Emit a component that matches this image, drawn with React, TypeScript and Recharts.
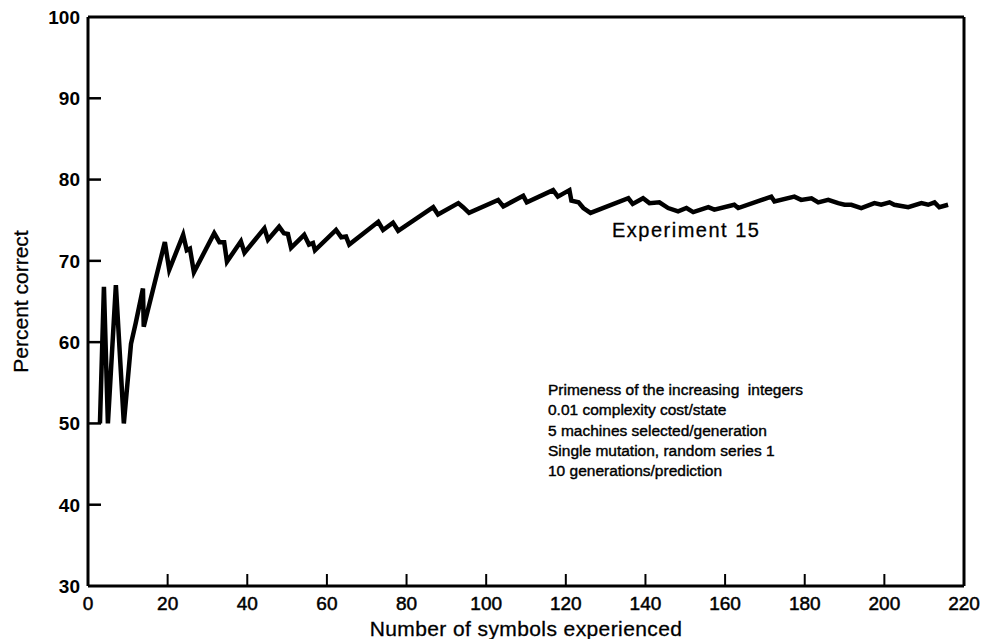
import { LineChart, Line, XAxis, YAxis, ReferenceLine, Label } from 'recharts';

// symbols experienced vs. percent correct
const symbols = [
  3, 4, 5, 7, 9, 10.8, 12, 13.8, 14, 19.3, 20.4, 23.9, 24.8, 25.6, 26.6,
  31.7, 33, 34.2, 34.9, 38.4, 39.3, 44.3, 45.2, 48, 49.2, 50.2, 51, 54.3,
  55.5, 56.5, 57, 62.3, 63.6, 64.8, 65.6, 72.9, 74.1, 76.6, 77.9, 86.7,
  87.9, 93, 94.2, 95.7, 103, 104.3, 109.3, 110.2, 116.8, 118, 120.9, 121.4,
  123.2, 124.4, 126.2, 135.7, 136.8, 139.4, 141, 143.5, 145.7, 148.2, 150.3,
  152, 155.8, 157.3, 162.3, 163.3, 171.6, 172.4, 177.4, 179.1, 181.7, 183.4,
  185.9, 188.4, 190, 191.7, 194.2, 197.5, 199.2, 201.3, 202.5, 206, 209.3,
  211, 212.6, 213.8, 216,
];
const percent = [
  50, 66.8, 50, 67, 50, 59.8, 62.4, 66.6, 61.9, 72.3, 68.9, 73.2, 71.3, 71.5, 68.6,
  73.4, 72.3, 72.3, 69.9, 72.4, 71, 74, 72.6, 74.2, 73.4, 73.3, 71.6, 73.2,
  72, 72.2, 71.3, 73.8, 72.9, 73, 72, 74.8, 73.8, 74.7, 73.7, 76.6,
  75.7, 77.1, 76.6, 75.9, 77.5, 76.7, 78, 77.2, 78.7, 77.9, 78.7, 77.4,
  77.2, 76.5, 75.9, 77.7, 77, 77.7, 77.1, 77.2, 76.5, 76.1, 76.5,
  76, 76.6, 76.3, 76.9, 76.5, 77.9, 77.3, 77.9, 77.5, 77.7, 77.2,
  77.5, 77.1, 76.9, 76.9, 76.5, 77.1, 76.9, 77.2, 76.9, 76.6, 77.1,
  76.9, 77.2, 76.6, 76.9,
];
const xTicks = [0, 20, 40, 60, 80, 100, 120, 140, 160, 180, 200, 220];
const yTicks = [30, 40, 50, 60, 70, 80, 90, 100];
const notes = [
  'Primeness of the increasing  integers',
  '0.01 complexity cost/state',
  '5 machines selected/generation',
  'Single mutation, random series 1',
  '10 generations/prediction',
];

const data = symbols.map((x, i) => ({ x, pct: percent[i] }));

const FONT = '"Liberation Sans", Arial, sans-serif';
const INK = '#000';

function LeftTick({ x, y, payload }: any) {
  const inner = payload.value > 30 && payload.value < 100;
  return (
    <g>
      {inner && <line x1={x + 8} x2={x + 21} y1={y} y2={y} stroke={INK} strokeWidth={2.5} />}
      <text x={x} y={y} dy="0.36em" textAnchor="end" fontSize={19} fontWeight="bold" fontFamily={FONT} fill={INK}>
        {payload.value}
      </text>
    </g>
  );
}

function RightTick({ x, y, payload }: any) {
  const inner = payload.value > 30 && payload.value < 100;
  if (!inner) return <g />;
  return <line x1={x - 8} x2={x - 21} y1={y} y2={y} stroke={INK} strokeWidth={2.5} />;
}

function BottomTick({ x, y, payload }: any) {
  const inner = payload.value > 0 && payload.value < 220;
  return (
    <g>
      {inner && <line x1={x} x2={x} y1={y - 10} y2={y - 22} stroke={INK} strokeWidth={2} />}
      <text x={x} y={y} dy="0.75em" textAnchor="middle" fontSize={19} fontFamily={FONT} fill={INK}
        stroke={INK} strokeWidth={0.5}>
        {payload.value}
      </text>
    </g>
  );
}

export default function App() {
  return (
    <div style={{ position: 'absolute', left: 0, top: 0, width: 994, height: 639, background: '#fff' }}>
      <LineChart width={994} height={639} data={data} margin={{ top: 17, right: 10, left: 28, bottom: 3 }}>
        <XAxis
          dataKey="x"
          type="number"
          domain={[0, 220]}
          ticks={xTicks}
          height={50}
          tickSize={0}
          tickMargin={10}
          tick={<BottomTick />}
          axisLine={{ stroke: INK, strokeWidth: 3 }}
          tickLine={false}
          interval={0}
        >
          <Label
            value="Number of symbols experienced"
            position="insideBottom"
            offset={0}
            style={{ fontSize: 21, fontFamily: FONT, fill: INK, letterSpacing: 0.4, stroke: INK, strokeWidth: 0.3 }}
          />
        </XAxis>
        <YAxis
          yAxisId="l"
          domain={[30, 100]}
          ticks={yTicks}
          width={60}
          tickSize={0}
          tickMargin={8}
          tick={<LeftTick />}
          axisLine={{ stroke: INK, strokeWidth: 3 }}
          tickLine={false}
          interval={0}
        >
          <Label
            content={(p: any) => {
              const vb = p.viewBox || { x: 28, y: 17, height: 569 };
              const cx = vb.x - 8;
              const cy = vb.y + vb.height / 2;
              return (
                <text
                  x={cx}
                  y={cy}
                  transform={`rotate(-90, ${cx}, ${cy})`}
                  textAnchor="middle"
                  dominantBaseline="central"
                  fontSize={21}
                  fontFamily={FONT}
                  fill={INK}
                  stroke={INK}
                  strokeWidth={0.3}
                >
                  Percent correct
                </text>
              );
            }}
          />
        </YAxis>
        <YAxis
          yAxisId="r"
          orientation="right"
          domain={[30, 100]}
          ticks={yTicks}
          width={20}
          tickSize={0}
          tickMargin={8}
          tick={<RightTick />}
          axisLine={{ stroke: INK, strokeWidth: 3 }}
          tickLine={false}
          interval={0}
        />
        <ReferenceLine yAxisId="l" y={100} stroke={INK} strokeWidth={3} />
        <Line
          yAxisId="l"
          type="linear"
          dataKey="pct"
          stroke={INK}
          strokeWidth={4.5}
          strokeLinejoin="miter"
          dot={false}
          isAnimationActive={false}
        />
      </LineChart>
      <div
        style={{
          position: 'absolute',
          left: 612,
          top: 219,
          fontSize: 20,
          letterSpacing: 1.5,
          fontFamily: FONT,
          color: INK,
          whiteSpace: 'pre',
          WebkitTextStroke: '0.3px #000',
        }}
      >
        Experiment 15
      </div>
      <div
        style={{
          position: 'absolute',
          left: 548,
          top: 380,
          fontSize: 15.5,
          lineHeight: '20.3px',
          fontFamily: FONT,
          color: INK,
          whiteSpace: 'pre',
          WebkitTextStroke: '0.4px #000',
        }}
      >
        {notes.map((n) => (
          <div key={n}>{n}</div>
        ))}
      </div>
    </div>
  );
}
